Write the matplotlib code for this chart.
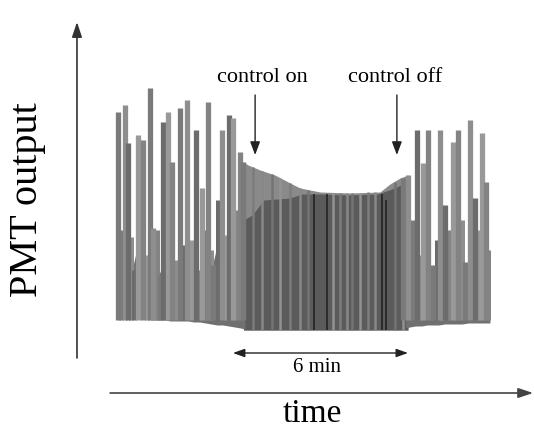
import numpy as np
import matplotlib.pyplot as plt

plt.rcParams['font.family'] = ['Liberation Serif', 'DejaVu Serif']

# time in minutes, PMT output in arbitrary units

# tall spikes before control is switched on
left_spike_t = [0.00, 0.24, 0.34, 0.69, 0.86, 1.10, 1.20, 1.54, 1.71, 1.85, 2.13,
                2.37, 2.67, 2.88, 3.09, 3.26, 3.57, 3.81, 3.94, 4.18, 4.29]
left_spike_h = [2.18, 2.25, 1.87, 1.95, 1.90, 2.42, 1.02, 2.08, 2.18, 1.68, 2.22,
                2.30, 2.00, 1.42, 2.28, 0.65, 2.00, 2.15, 2.12, 1.78, 1.68]
# smaller spikes in between
left_small_t = [0.10, 0.45, 0.55, 1.00, 1.34, 1.45, 1.99, 2.25, 2.54, 2.78, 2.98,
                3.20, 3.43, 3.70, 4.05]
left_small_h = [1.00, 0.93, 0.60, 0.75, 1.00, 0.55, 0.70, 0.85, 0.90, 0.60, 1.00,
                0.80, 1.30, 0.95, 1.20]

# spikes after control is switched off
right_spike_t = [9.77, 9.94, 10.25, 10.46, 10.63, 10.80, 11.04, 11.21, 11.48, 11.66,
                 11.90, 12.07, 12.24, 12.48, 12.62]
right_spike_h = [1.52, 1.55, 2.00, 1.67, 2.00, 0.65, 2.00, 1.25, 1.88, 2.00,
                 0.68, 2.10, 1.32, 1.97, 1.48]
right_small_t = [10.08, 10.36, 10.94, 11.12, 11.35, 11.57, 11.79, 11.98, 12.34, 12.70]
right_small_h = [1.10, 0.75, 0.90, 0.60, 1.00, 0.70, 1.10, 0.55, 1.00, 0.80]

# dense base of the trace (left / right parts)
left_base_t = [0.00, 0.20, 0.40, 0.60, 0.80, 1.00, 1.20, 1.40, 1.60, 1.80, 2.00, 2.20,
               2.40, 2.60, 2.80, 3.00, 3.20, 3.40, 3.60, 3.80, 4.00, 4.20, 4.35]
left_base_bot = [0.12, 0.11, 0.11, 0.12, 0.12, 0.11, 0.10, 0.10, 0.10, 0.09, 0.09, 0.09,
                 0.09, 0.08, 0.08, 0.07, 0.06, 0.05, 0.05, 0.04, 0.03, 0.02, 0.01]
left_base_top = [0.55, 0.70, 0.50, 0.75, 0.60, 0.45, 0.65, 0.55, 0.70, 0.45, 0.60, 0.75,
                 0.50, 0.65, 0.55, 0.70, 0.60, 0.85, 0.65, 0.90, 0.75, 1.00, 1.10]
right_base_t = [9.85, 10.00, 10.20, 10.40, 10.60, 10.80, 11.00, 11.20, 11.40, 11.60,
                11.80, 12.00, 12.20, 12.40, 12.60, 12.75]
right_base_bot = [0.02, 0.03, 0.04, 0.04, 0.05, 0.05, 0.05, 0.06, 0.06, 0.06,
                  0.06, 0.07, 0.07, 0.07, 0.07, 0.07]
right_base_top = [1.20, 0.80, 0.55, 0.70, 0.50, 0.65, 0.55, 0.45, 0.70, 0.55,
                  0.50, 0.65, 0.45, 0.60, 0.55, 0.50]

# control on: upper envelope and dark band
env_t = [4.30, 4.46, 4.87, 5.38, 5.90, 6.24, 6.93, 7.95, 8.98, 9.32, 9.67, 9.94]
env_h = [1.68, 1.65, 1.60, 1.55, 1.47, 1.42, 1.38, 1.37, 1.38, 1.46, 1.52, 1.55]
dark_t = [4.30, 4.60, 5.00, 5.90, 6.30, 6.90, 7.90, 8.90, 9.30, 9.70, 9.94]
dark_h = [1.10, 1.15, 1.30, 1.32, 1.36, 1.36, 1.35, 1.36, 1.40, 1.45, 1.45]
light_t = [4.63, 4.94, 5.28, 5.55, 5.90, 6.24, 6.51, 7.37, 7.61, 7.85, 8.02,
           8.30, 8.57, 8.81, 9.50, 9.77]
light_h = [1.63, 1.59, 1.56, 1.52, 1.47, 1.42, 1.40, 1.37, 1.37, 1.37, 1.37,
           1.37, 1.38, 1.38, 1.48, 1.52]
black_t = [6.72, 7.16, 9.05, 9.19]
black_h = [1.36, 1.36, 1.36, 1.30]

fig = plt.figure(figsize=(5.34, 4.28), dpi=100)
ax = fig.add_axes([0, 0, 1, 1])
ax.set_xlim(-4.045, 14.26)
ax.set_ylim(-0.98, 3.30)
ax.axis('off')

shades = ['#7a7a7a', '#8e8e8e', '#6c6c6c', '#999999', '#838383']
light_shades = ['#7c7c7c', '#888888', '#747474', '#929292']

# middle section
ax.fill_between(env_t, 0, env_h, color='#8a8a8a', lw=0)
ax.fill_between(dark_t, 0, dark_h, color='#5b5b5b', lw=0)
ax.vlines(light_t, 0.0, light_h,
          colors=[light_shades[i % 4] for i in range(len(light_t))], lw=1.8)
ax.vlines(black_t, 0.0, black_h, colors='#1e1e1e', lw=1.1)

# base band (under the spikes)
ax.fill_between(left_base_t, left_base_bot, left_base_top, color='#707070', lw=0)
ax.fill_between(right_base_t, right_base_bot, right_base_top, color='#707070', lw=0)

# spikes
for t_list, h_list, w in [(left_small_t, left_small_h, 3.6), (right_small_t, right_small_h, 3.6),
                          (left_spike_t, left_spike_h, 3.8), (right_spike_t, right_spike_h, 3.8)]:
    cols = [shades[i % len(shades)] for i in range(len(t_list))]
    ax.vlines(t_list, 0.10, h_list, colors=cols, lw=w)

# axes arrows
ax.annotate('', xy=(-1.406, 3.08), xytext=(-1.406, -0.28),
            arrowprops=dict(arrowstyle='-|>,head_length=0.9,head_width=0.3',
                            color='#333333', lw=1.2, shrinkA=0, shrinkB=0))
ax.annotate('', xy=(14.23, -0.63), xytext=(-0.27, -0.63),
            arrowprops=dict(arrowstyle='-|>,head_length=0.9,head_width=0.3',
                            color='#444444', lw=1.2, shrinkA=0, shrinkB=0))

# control markers
for tx in [4.70, 9.56]:
    ax.annotate('', xy=(tx, 1.75), xytext=(tx, 2.35),
                arrowprops=dict(arrowstyle='-|>,head_length=0.8,head_width=0.3',
                                color='#222222', lw=1.0, shrinkA=0, shrinkB=0))
ax.text(4.94, 2.52, 'control on', ha='center', va='center', fontsize=16)
ax.text(9.50, 2.52, 'control off', ha='center', va='center', fontsize=16)

# 6 min scale bar
ax.annotate('', xy=(3.94, -0.23), xytext=(9.94, -0.23),
            arrowprops=dict(arrowstyle='<|-|>,head_length=0.7,head_width=0.25',
                            color='#222222', lw=1.0, shrinkA=0, shrinkB=0))
ax.text(6.82, -0.38, '6 min', ha='center', va='center', fontsize=15)

ax.text(6.65, -0.84, 'time', ha='center', va='center', fontsize=24)
ax.text(-3.09, 1.30, 'PMT output', ha='center', va='center', rotation=90, fontsize=29)

fig.savefig('out.png', dpi=100)
